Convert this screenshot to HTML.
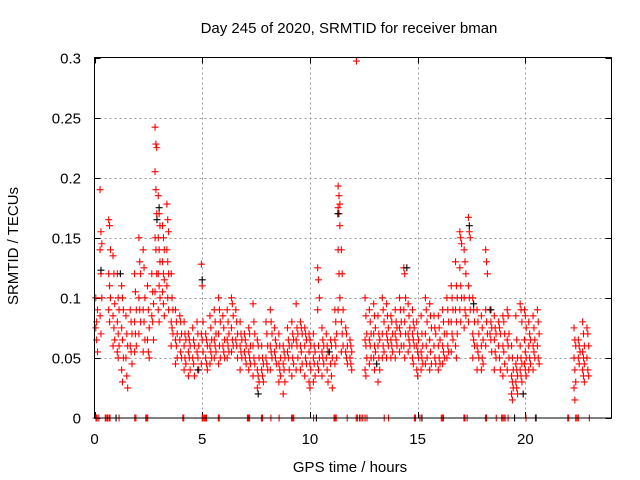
<!DOCTYPE html>
<html><head><meta charset="utf-8"><style>
html,body{margin:0;padding:0;background:#fff;}
svg{display:block;font-family:"Liberation Sans",sans-serif;}
</style></head><body>
<svg id="chart" width="640" height="480" viewBox="0 0 640 480" xmlns="http://www.w3.org/2000/svg">
<rect width="640" height="480" fill="#fff"/>
<text x="349" y="33" font-size="15" text-anchor="middle" fill="#000">Day 245 of 2020, SRMTID for receiver bman</text>
<text transform="translate(18,246) rotate(-90)" font-size="15" text-anchor="middle" fill="#000">SRMTID / TECUs</text>
<text x="350" y="472" font-size="15" text-anchor="middle" fill="#000">GPS time / hours</text>
<g id="grid"></g>
<g id="ticks"></g>
<g id="red"></g>
<g id="black"></g>
<rect x="94.5" y="57.5" width="517" height="360.5" fill="none" stroke="#000" stroke-width="1"/>
</svg>
<script>
const xTicks=[0,5,10,15,20];
const yTicks=[0,0.05,0.1,0.15,0.2,0.25,0.3];
const yTickLabels=["0","0.05","0.1","0.15","0.2","0.25","0.3"];
const hourColumns=[0.1,0.3,0.7,0.9,1.1,1.3,1.5,1.7,1.9,2.1,2.3,2.5,2.7,2.85,3.0,3.2,3.4,3.6,3.8,4.0,4.2,4.4,4.6,4.8,5.0,5.2,5.4,5.6,5.8,6.0,6.2,6.4,6.6,6.8,7.0,7.2,7.4,7.6,7.8,8.0,8.2,8.4,8.6,8.8,9.0,9.2,9.4,9.6,9.8,10.0,10.2,10.4,10.6,10.8,11.0,11.2,11.35,11.5,11.7,11.9,12.2,12.6,12.8,13.0,13.2,13.4,13.6,13.8,14.0,14.2,14.4,14.6,14.8,15.0,15.2,15.4,15.6,15.8,16.0,16.2,16.4,16.6,16.8,17.0,17.2,17.4,17.6,17.8,18.0,18.2,18.4,18.6,18.8,19.0,19.2,19.4,19.6,19.8,20.0,20.2,20.4,20.6,22.3,22.5,22.7,22.9];
const srmtidColumns=[
[.075,.08,.09,.1,.065,.055],
[.19,.155,.145,.14,.12,.1,.085,.07],
[.165,.16,.14,.12,.11,.1,.09,.08],
[.135,.12,.095,.085,.075,.065,.06],
[.12,.1,.09,.08,.07,.06,.055,.05],
[.11,.1,.09,.075,.065,.05,.04,.03],
[.085,.07,.06,.05,.035,.025],
[.09,.08,.07,.06,.055,.045],
[.12,.105,.09,.08,.07,.06,.055],
[.15,.13,.12,.1,.09,.08,.07],
[.14,.125,.1,.09,.08,.065,.055],
[.11,.09,.075,.065,.055,.05],
[.12,.105,.095,.085,.08,.065],
[.242,.228,.225,.205,.19,.17,.15,.14,.12,.105],
[.185,.17,.16,.15,.14,.13,.12,.11,.1,.09,.08],
[.16,.15,.14,.13,.12,.115,.105,.095,.085],
[.178,.165,.155,.14,.13,.12,.11,.1,.09],
[.12,.1,.09,.08,.075,.07,.06],
[.09,.08,.07,.065,.06,.05,.045],
[.085,.08,.07,.065,.055,.05],
[.08,.07,.065,.06,.05,.045,.04],
[.07,.065,.06,.055,.05,.04,.035],
[.075,.065,.06,.05,.045,.035],
[.08,.07,.06,.055,.05,.04],
[.128,.11,.08,.07,.065,.055,.045],
[.07,.065,.06,.05,.045,.04],
[.085,.075,.065,.06,.055,.05,.045],
[.09,.08,.07,.065,.06,.055,.05],
[.1,.09,.08,.07,.06,.05,.045],
[.085,.075,.065,.06,.055,.05],
[.09,.08,.07,.065,.06,.055,.05],
[.1,.095,.085,.075,.065,.06,.055],
[.09,.08,.07,.065,.06,.05],
[.08,.07,.065,.06,.055,.05,.04],
[.07,.065,.06,.055,.05,.045],
[.075,.07,.06,.055,.05,.045,.04],
[.095,.08,.07,.06,.05,.045,.035],
[.065,.06,.05,.04,.035,.03,.025],
[.06,.05,.045,.04,.035,.03],
[.08,.07,.06,.05,.045,.04],
[.09,.08,.07,.06,.055,.05,.04],
[.075,.065,.06,.055,.05,.045],
[.07,.06,.05,.045,.04,.035,.03],
[.06,.055,.05,.045,.04,.03,.02],
[.075,.065,.06,.055,.05,.04],
[.08,.07,.065,.06,.05,.045,.035],
[.095,.075,.07,.065,.06,.05,.04],
[.08,.075,.07,.06,.055,.045,.04],
[.075,.07,.065,.06,.05,.045,.035],
[.07,.065,.06,.055,.045,.04,.03,.025],
[.07,.06,.055,.05,.045,.035,.03],
[.125,.115,.1,.09,.06,.05,.045,.04],
[.075,.065,.06,.055,.05,.045,.035],
[.07,.06,.055,.05,.04,.03],
[.065,.06,.05,.045,.035,.025],
[.09,.08,.07,.065,.06,.05,.045],
[.193,.185,.178,.175,.17,.16,.14,.12,.1,.09],
[.14,.12,.09,.08,.07,.06,.055],
[.075,.07,.06,.055,.05,.045],
[.065,.06,.055,.05,.045,.04],
[.297],
[.1,.085,.07,.065,.06,.05,.04,.035],
[.09,.08,.07,.065,.06,.05,.045],
[.095,.085,.075,.07,.06,.055,.05,.04],
[.085,.07,.065,.06,.05,.04,.03],
[.1,.09,.08,.07,.06,.055,.05],
[.095,.085,.075,.07,.065,.06,.05],
[.085,.08,.07,.065,.06,.055,.05],
[.09,.08,.075,.07,.065,.06,.05],
[.1,.09,.08,.075,.07,.06,.055],
[.125,.12,.1,.09,.08,.07,.06,.05],
[.095,.085,.075,.07,.065,.06,.055],
[.09,.08,.075,.07,.065,.06,.05,.045],
[.08,.07,.065,.06,.055,.05,.04,.035],
[.085,.07,.06,.055,.05,.045,.04],
[.1,.09,.08,.07,.06,.05,.045],
[.095,.085,.075,.065,.055,.045,.04],
[.085,.075,.07,.06,.05,.045],
[.085,.075,.065,.06,.05,.045,.04],
[.09,.08,.07,.06,.055,.05,.045],
[.1,.09,.08,.07,.06,.055,.05],
[.11,.1,.09,.08,.07,.065,.055],
[.13,.11,.1,.09,.08,.07,.06,.05],
[.155,.15,.145,.125,.11,.1,.09,.08],
[.14,.13,.12,.1,.09,.085,.075],
[.167,.155,.15,.11,.1,.09,.08],
[.1,.09,.08,.07,.065,.06,.05],
[.09,.08,.07,.06,.055,.05,.04],
[.085,.075,.065,.06,.05,.045,.04],
[.14,.13,.12,.09,.08,.07,.06],
[.09,.08,.075,.07,.065,.055],
[.085,.075,.07,.065,.055,.05,.04],
[.08,.075,.07,.06,.05,.04],
[.085,.08,.07,.06,.055,.045,.035],
[.09,.085,.07,.065,.06,.05,.04],
[.06,.05,.04,.035,.03,.025,.02,.015],
[.085,.065,.05,.045,.04,.035,.03,.025,.02],
[.095,.09,.08,.06,.05,.045,.04,.035,.03],
[.09,.085,.075,.065,.055,.05,.045,.04,.035],
[.08,.07,.065,.06,.05,.045,.04],
[.085,.075,.065,.06,.055,.05,.04],
[.09,.08,.07,.06,.05,.045],
[.075,.065,.06,.05,.04,.03,.025,.015],
[.065,.06,.055,.05,.045],
[.08,.07,.06,.055,.05,.045,.04,.035,.03],
[.075,.07,.06,.05,.04,.035]
];
const zeroHours=[0.07,0.12,0.2,0.5,0.54,0.6,0.67,0.72,1.14,1.87,1.92,2.38,2.42,2.47,4.1,4.14,5.0,5.04,5.1,5.15,5.2,5.75,5.79,7.1,7.15,7.2,7.75,7.8,8.19,8.57,9.15,9.2,9.25,10.17,11.12,11.17,11.22,11.73,12.15,12.2,12.3,12.37,12.45,12.56,12.65,13.45,13.65,14.85,14.9,15.11,16.1,16.15,16.2,17.15,17.2,17.3,18.15,18.2,18.65,18.9,18.93,19.0,19.06,19.2,20.03,20.47,21.97,22.01,22.34,22.4,22.46,22.97];
const blackHours=[0.3,1.2,2.9,3.0,4.8,5.0,7.6,10.9,11.3,13.1,14.5,17.4,17.6,18.4,19.9,1.0,10.3,15.2,19.5,20.5];
const blackValues=[.123,.12,.165,.175,.04,.115,.02,.055,.17,.045,.125,.16,.095,.09,.02,0,0,0,0,0];

const X0=94.5,X1=611.5,Y0=418,Y1=57.5;
function xs(h){return X0+(h/24)*(X1-X0);}
function ys(v){return Y0-(v/0.3)*(Y0-Y1);}
const NS="http://www.w3.org/2000/svg";
function mk(tag,attrs,parent){const e=document.createElementNS(NS,tag);for(const k in attrs)e.setAttribute(k,attrs[k]);parent.appendChild(e);return e;}
const grid=document.getElementById('grid'),ticks=document.getElementById('ticks');
xTicks.forEach((t,i)=>{
  const x=Math.round(xs(t))+0.5;
  if(i>0){const g=mk('line',{x1:x,x2:x,y1:Y1,y2:Y0,stroke:'#999','stroke-dasharray':'2,3','stroke-width':1},grid);
  
  }
  mk('line',{x1:x,x2:x,y1:Y0,y2:Y0-6,stroke:'#000'},ticks);
  mk('line',{x1:x,x2:x,y1:Y1,y2:Y1+6,stroke:'#000'},ticks);
  const tx=mk('text',{x:xs(t),y:444,'font-size':15,'text-anchor':'middle',fill:'#000'},ticks);
  tx.textContent=String(t);
  
  
});
yTicks.forEach((t,i)=>{
  const y=Math.round(ys(t))+0.5;
  if(i>0&&i<yTicks.length-1){const g=mk('line',{x1:X0,x2:X1,y1:y,y2:y,stroke:'#999','stroke-dasharray':'2,3','stroke-width':1},grid);
  
  }
  mk('line',{x1:X0,x2:X0+6,y1:y,y2:y,stroke:'#000'},ticks);
  mk('line',{x1:X1-6,x2:X1,y1:y,y2:y,stroke:'#000'},ticks);
  const tx=mk('text',{x:81,y:y+5,'font-size':15,'text-anchor':'end',fill:'#000'},ticks);
  tx.textContent=yTickLabels[i];
  
  
});
function plus(h,v,color,parent){
  const x=xs(h),y=ys(v),r=3.5;
  const p=mk('path',{d:`M${x-r},${y}H${x+r}M${x},${y-r}V${y+r}`,stroke:color,'stroke-width':1.1,fill:'none'},parent);
  
  
}
const red=document.getElementById('red'),black=document.getElementById('black');
hourColumns.forEach((h,i)=>{srmtidColumns[i].forEach((v,j)=>plus(h+((j%3)-1)*0.04,v,'#f00',red));});
zeroHours.forEach(h=>plus(h,0,'#f00',red));
blackHours.forEach((h,i)=>plus(h,blackValues[i],'#000',black));
</script>
</body></html>
